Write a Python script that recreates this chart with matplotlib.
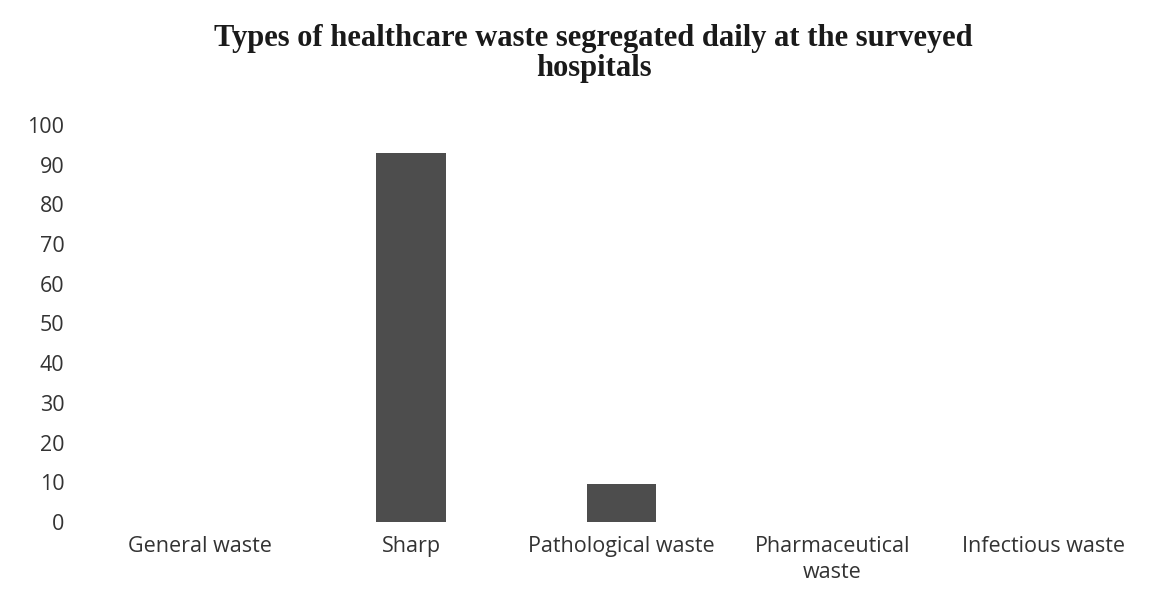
import numpy as np
import matplotlib
matplotlib.use('Agg')
import matplotlib.pyplot as plt

categories = ['General waste', 'Sharp', 'Pathological waste', 'Pharmaceutical\nwaste', 'Infectious waste']
values = [0, 93, 9.5, 0, 0]
yticks = [0, 10, 20, 30, 40, 50, 60, 70, 80, 90, 100]
title = 'Types of healthcare waste segregated daily at the surveyed\nhospitals'

fig = plt.figure(figsize=(11.73, 5.89), dpi=100)
ax = fig.add_axes([0.081, 0.1138, 0.898, 0.674])

x = np.arange(len(categories))
ax.bar(x, values, width=0.33, color='#4d4d4d')

ax.set_xlim(-0.5, len(categories) - 0.5)
ax.set_ylim(0, 100)
ax.set_yticks(yticks)
ax.set_yticklabels([str(t) for t in yticks], fontfamily='Open Sans', fontsize=15.5, color='#333333')
ax.set_xticks(x)
ax.set_xticklabels(categories, fontfamily='Open Sans', fontsize=15.5, color='#333333', va='top', linespacing=1.3)
ax.tick_params(axis='both', length=0)
ax.tick_params(axis='x', pad=10)
ax.tick_params(axis='y', pad=22)
for s in ax.spines.values():
    s.set_visible(False)

fig.text(0.506, 0.96, title, ha='center', va='top', fontfamily='Liberation Serif',
         fontweight='bold', fontsize=22, color='#1a1a1a', linespacing=1.05)

fig.savefig('out.png', dpi=100)
